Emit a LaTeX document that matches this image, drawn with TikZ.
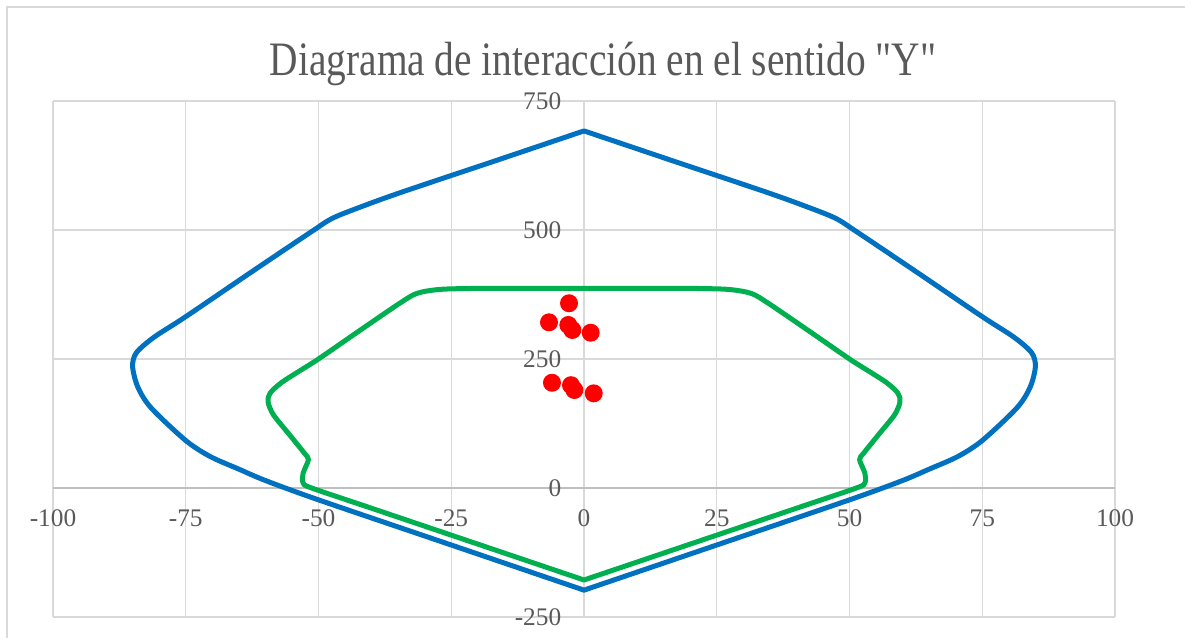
\documentclass[tikz,border=0pt]{standalone}
\usepackage{fontspec}
\setmainfont{Liberation Serif}
\usepackage{tikz}
\usepackage{xcolor}

\definecolor{gridgray}{HTML}{D9D9D9}
\definecolor{axisgray}{HTML}{BFBFBF}
\definecolor{txtgray}{HTML}{595959}
\definecolor{curveblue}{HTML}{0070C0}
\definecolor{curvegreen}{HTML}{00B050}

% plain font, no TeX quote mapping
\font\titlefont="Liberation Serif" at 36pt

\begin{document}
\begin{tikzpicture}[x=3.9825pt, y=0.387pt,
    gridline/.style={gridgray, line width=1pt},
    ticklbl/.style={font=\fontsize{19}{19}\selectfont, text=txtgray, inner sep=0pt},
    curve/.style={line width=3.75pt, line join=round}]
    \useasboundingbox (-109.98,-290.7) rectangle (113.18,945.7);

    % Chart frame
    \draw[gridgray, line width=1.2pt] (-108.66,-290.7) -- (-108.66,932.2) -- (113.18,932.2);

    % Title
    \node[font=\titlefont, text=txtgray, xscale=0.82, anchor=base] (title) at (3.58,800) {Diagrama de interacción en el sentido "Y"};

    % Grid
    \foreach \x in {-100,-75,...,100}
        \draw[gridline] (\x,-250) -- (\x,750);
    \foreach \y in {-250,250,500,750}
        \draw[gridline] (-100,\y) -- (100,\y);
    \draw[axisgray, line width=1.2pt] (-100,0) -- (100,0);

    % Tick labels
    \foreach \x in {-100,-75,...,100}
        \node[ticklbl] (xtick\x) at (\x,-59) {\x};
    \foreach \y in {-250,0,250,500,750}
        \node[ticklbl, anchor=east] (ytick\y) at (-4.24,\y) {\y};

    % Nominal curve
    \draw[curve, curveblue] plot[smooth, tension=0.5] coordinates {
        (0,692) (-17.3,632) (-34.7,572) (-43,541) (-47.5,522) (-51,499) (-63,416) (-75,332)
        (-81,292) (-84.3,262) (-85,235) (-84,195) (-81.5,155) (-75,92)
        (-70.4,61) (-65,36.5) (-60,14.5) (-50,-23) (-25,-110.5) (0,-198)}
        -- plot[smooth, tension=0.5] coordinates {
        (0,-198) (25,-110.5) (50,-23) (60,14.5) (65,36.5) (70.4,61)
        (75,92) (81.5,155) (84,195) (85,235) (84.3,262) (81,292)
        (75,332) (63,416) (51,499) (47.5,522) (43,541) (34.7,572) (17.3,632) (0,692)}
        -- cycle;

    % Design curve
    \draw[curve, curvegreen] plot[smooth, tension=0.5] coordinates {
        (0,387) (-12,387) (-22,386.5) (-27.5,384.5) (-31.5,377) (-34.7,358) (-42.4,304)
        (-50,250) (-54,224) (-57,204) (-59.1,184) (-59.5,167) (-58.5,142) (-55.6,105)
        (-52.7,68) (-51.9,55) (-52.9,28.5) (-52.9,10) (-51.3,0) (-40,-39.3)
        (-25,-91.4) (0,-178.3)}
        -- plot[smooth, tension=0.5] coordinates {
        (0,-178.3) (25,-91.4) (40,-39.3) (51.3,0) (52.9,10)
        (52.9,28.5) (51.9,55) (52.7,68) (55.6,105) (58.5,142) (59.5,167) (59.1,184)
        (57,204) (54,224) (50,250) (42.4,304) (34.7,358) (31.5,377) (27.5,384.5)
        (22,386.5) (12,387) (0,387)}
        -- cycle;

    % Load points
    \foreach \px/\py in {-2.82/358, -6.59/321, -2.95/315.9, -2.2/306.2, 1.26/300.9,
                         -6.03/203.9, -2.45/199.2, -1.82/189.9, 1.83/183.4}
        \fill[red] (\px,\py) circle[radius=6.75pt];
\end{tikzpicture}
\end{document}
